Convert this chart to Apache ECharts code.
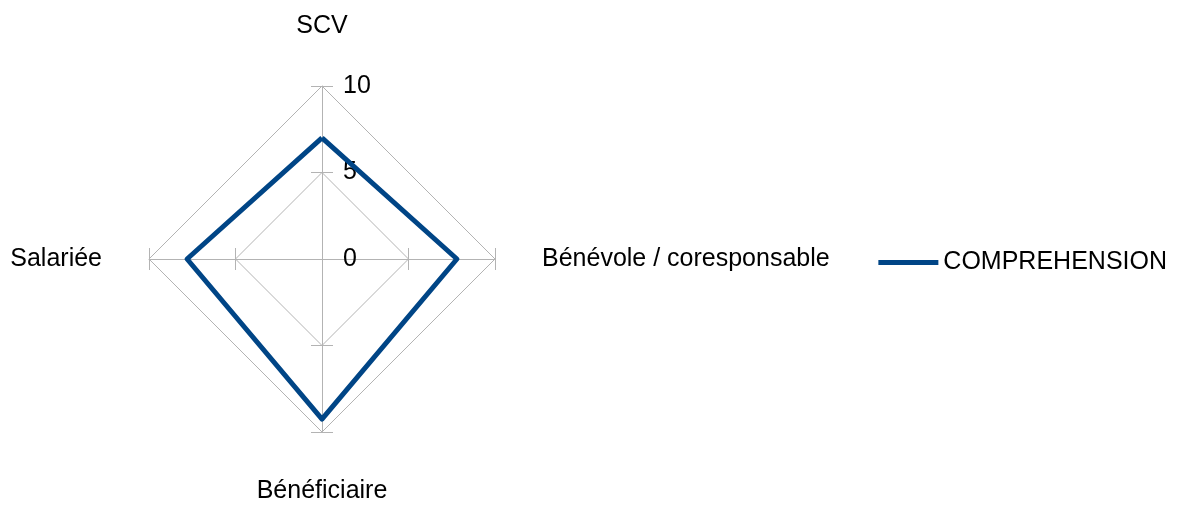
<!DOCTYPE html>
<html>
<head>
<meta charset="utf-8">
<script src="https://cdn.jsdelivr.net/npm/echarts@6/dist/echarts.min.js"></script>
<style>
  html, body { margin: 0; padding: 0; background: #fff; }
  #chart { width: 1178px; height: 506px; }
</style>
</head>
<body>
<div id="chart"></div>
<script>
// axes, in the order ECharts lays them out (counter-clockwise from the top)
var axes = ['SCV', 'Salariée', 'Bénéficiaire', 'Bénévole / coresponsable'];
var axisMax = 10;
var seriesName = 'COMPREHENSION';
var values = [7, 7.8, 9.25, 7.8];

var chart = echarts.init(document.getElementById('chart'));

// only the first (top) axis carries the scale labels
var indicators = axes.map(function (name, i) {
    var ind = { name: name, min: 0, max: axisMax };
    if (i > 0) ind.axisLabel = { show: false };
    return ind;
});
var tickOnly = axes.map(function (name) {
    return { name: '', min: 0, max: axisMax };
});

var grey = '#b3b3b3';
var option = {
    animation: false,
    textStyle: { fontFamily: 'Liberation Sans, Arial, sans-serif' },
    legend: {
        data: [seriesName],
        right: 6,
        top: 245,
        orient: 'vertical',
        itemWidth: 60,
        itemHeight: 5,
        itemGap: 10,
        icon: 'rect',
        textStyle: { fontSize: 25, color: '#000' }
    },
    radar: [
        {
            center: [322, 259],
            radius: 173,
            startAngle: 90,
            shape: 'polygon',
            splitNumber: 2,
            indicator: indicators,
            nameGap: 47,
            axisName: { color: '#000', fontSize: 25 },
            splitLine: { lineStyle: { color: grey, width: 1 } },
            splitArea: { show: false },
            axisLine: { lineStyle: { color: grey, width: 1 } },
            axisTick: { show: true, length: 11, lineStyle: { color: grey } },
            axisLabel: { show: true, color: '#000', fontSize: 25, margin: -21, align: 'left' }
        },
        {
            // second copy only to draw the other half of each tick
            center: [322, 259],
            radius: 173,
            startAngle: 90,
            shape: 'polygon',
            splitNumber: 2,
            indicator: tickOnly,
            axisName: { show: false },
            splitLine: { show: false },
            splitArea: { show: false },
            axisLine: { show: false },
            axisTick: { show: true, length: -11, lineStyle: { color: grey } },
            axisLabel: { show: false }
        }
    ],
    series: [
        {
            name: seriesName,
            type: 'radar',
            radarIndex: 0,
            symbol: 'none',
            lineStyle: { color: '#004586', width: 5 },
            itemStyle: { color: '#004586' },
            data: [{ value: values, name: seriesName }]
        }
    ]
};
chart.setOption(option);
</script>
</body>
</html>
